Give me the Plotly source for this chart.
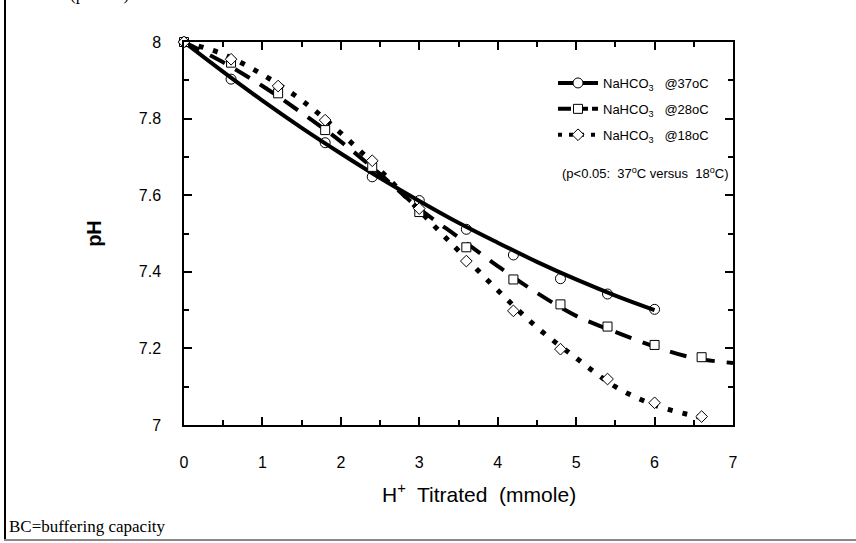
import plotly.graph_objects as go

# ---------------- data ----------------
# observed points
x37 = [0, 0.6, 1.8, 2.4, 3.0, 3.6, 4.2, 4.8, 5.4, 6.0]
y37 = [8.0, 7.903, 7.737, 7.648, 7.586, 7.511, 7.444, 7.382, 7.342, 7.302]

x28 = [0, 0.6, 1.2, 1.8, 2.4, 3.0, 3.6, 4.2, 4.8, 5.4, 6.0, 6.6]
y28 = [8.0, 7.946, 7.866, 7.770, 7.674, 7.556, 7.464, 7.380, 7.315, 7.257, 7.209, 7.177]

x18 = [0, 0.6, 1.2, 1.8, 2.4, 3.0, 3.6, 4.2, 4.8, 5.4, 6.0, 6.6]
y18 = [8.0, 7.955, 7.885, 7.796, 7.690, 7.565, 7.428, 7.298, 7.198, 7.120, 7.058, 7.022]

# fitted curves
cx37 = [0, 0.5, 1, 1.5, 2, 2.5, 3, 3.5, 4, 4.5, 5, 5.5, 6]
cy37 = [8.0, 7.922, 7.847, 7.776, 7.709, 7.645, 7.585, 7.528, 7.476, 7.426, 7.380, 7.338, 7.300]

cx28 = [0, 0.5, 1, 1.5, 2, 2.5, 3, 3.5, 4, 4.5, 5, 5.5, 6, 6.5, 7]
cy28 = [8.0, 7.947, 7.885, 7.815, 7.740, 7.655, 7.565, 7.490, 7.415, 7.345, 7.285, 7.243, 7.205, 7.175, 7.162]

cx18 = [0, 0.5, 1, 1.5, 2, 2.5, 3, 3.5, 4, 4.5, 5, 5.5, 6, 6.5, 6.6]
cy18 = [8.0, 7.968, 7.915, 7.848, 7.762, 7.665, 7.560, 7.455, 7.352, 7.255, 7.175, 7.100, 7.052, 7.024, 7.020]

legend_names = ["NaHCO<sub>3</sub>\u00a0\u00a0\u00a0@37oC",
                "NaHCO<sub>3</sub>\u00a0\u00a0\u00a0@28oC",
                "NaHCO<sub>3</sub>\u00a0\u00a0\u00a0@18oC"]
x_range = [0, 7]
y_range = [7, 8]
x_major, x_minor = 1, 0.5
y_major, y_minor = 0.2, 0.1

# ---------------- figure ----------------
W, H = 856, 543
L, R, T, B = 184, 123, 42, 118
pw, ph = W - L - R, H - T - B

def px(xp):
    return (xp - L) / pw

def py(yp):
    return (H - B - yp) / ph

SANS = "Liberation Sans, Arial, sans-serif"
SERIF = "Liberation Serif, Times New Roman, serif"

fig = go.Figure()

# curves
fig.add_trace(go.Scatter(x=cx37, y=cy37, mode="lines", line=dict(color="black", width=4, shape="spline"),
                         showlegend=False, hoverinfo="skip"))
fig.add_trace(go.Scatter(x=cx28, y=cy28, mode="lines", line=dict(color="black", width=4, shape="spline", dash="17px,12px"),
                         showlegend=False, hoverinfo="skip"))
fig.add_trace(go.Scatter(x=cx18, y=cy18, mode="lines", line=dict(color="black", width=5, shape="spline", dash="5px,10px"),
                         showlegend=False, hoverinfo="skip"))

# markers
fig.add_trace(go.Scatter(x=x37, y=y37, mode="markers", cliponaxis=False,
                         marker=dict(symbol="circle-open", size=10, color="black", line=dict(width=1)),
                         showlegend=False))
fig.add_trace(go.Scatter(x=x28, y=y28, mode="markers", cliponaxis=False,
                         marker=dict(symbol="square", size=9, color="white", line=dict(width=1, color="black")),
                         showlegend=False))
fig.add_trace(go.Scatter(x=x18, y=y18, mode="markers", cliponaxis=False,
                         marker=dict(symbol="diamond", size=9, color="white", line=dict(width=1, color="black")),
                         showlegend=False))

# legend entries
fig.add_trace(go.Scatter(x=[None], y=[None], mode="lines+markers", name=legend_names[0], legendgroup="a",
                         line=dict(color="black", width=4),
                         marker=dict(symbol="circle", size=10, color="white", line=dict(width=1, color="black"))))
fig.add_trace(go.Scatter(x=[None], y=[None], mode="lines+markers", name=legend_names[1], legendgroup="b",
                         line=dict(color="black", width=4, dash="13px,4px"),
                         marker=dict(symbol="square", size=9, color="white", line=dict(width=1, color="black"))))
fig.add_trace(go.Scatter(x=[None], y=[None], mode="lines+markers", name=legend_names[2], legendgroup="c",
                         line=dict(color="black", width=4, dash="4px,7px"),
                         marker=dict(symbol="diamond", size=9, color="white", line=dict(width=1, color="black"))))

# empty traces so the overlay tick axes are drawn
for xa, ya in [("x2", "y2"), ("x3", "y3"), ("x4", "y4")]:
    fig.add_trace(go.Scatter(x=[None], y=[None], xaxis=xa, yaxis=ya, showlegend=False, hoverinfo="skip"))

TICK = dict(ticks="inside", tickcolor="black", tickwidth=1.5, showgrid=False, zeroline=False)

def overlay_x(base_dtick, length, side, anchor, line=False):
    return dict(range=x_range, overlaying="x", anchor=anchor, side=side, tickmode="linear", tick0=0,
                dtick=base_dtick, ticklen=length, showticklabels=False,
                showline=line, linecolor="black", linewidth=1.5, **TICK)

def overlay_y(base_dtick, length, side, anchor, line=False):
    return dict(range=y_range, overlaying="y", anchor=anchor, side=side, tickmode="linear", tick0=7,
                dtick=base_dtick, ticklen=length, showticklabels=False,
                showline=line, linecolor="black", linewidth=1.5, **TICK)

fig.update_layout(
    xaxis=dict(range=x_range, tickmode="linear", tick0=0, dtick=x_major, ticklen=8, ticklabelstandoff=22,
               showline=True, linecolor="black", linewidth=1.5,
               tickfont=dict(family=SANS, size=16, color="black"), **TICK),
    yaxis=dict(range=y_range, tickmode="linear", tick0=7, dtick=y_major, ticklen=8, ticklabelstandoff=18,
               showline=True, linecolor="black", linewidth=1.5,
               tickfont=dict(family=SANS, size=16, color="black"),
               title=dict(text="<b>pH</b>", font=dict(family=SANS, size=20, color="black"), standoff=32),
               **TICK),
    xaxis2=overlay_x(x_minor, 5, "bottom", "y2"),
    yaxis2=overlay_y(y_minor, 5, "left", "x2"),
    xaxis3=overlay_x(x_major, 8, "top", "y3", line=True),
    yaxis3=overlay_y(y_major, 8, "right", "x3", line=True),
    xaxis4=overlay_x(x_minor, 5, "top", "y4"),
    yaxis4=overlay_y(y_minor, 5, "right", "x4"),
)

fig.update_layout(
    width=W, height=H,
    margin=dict(l=L, r=R, t=T, b=B, autoexpand=False),
    paper_bgcolor="white", plot_bgcolor="white",
    showlegend=True,
    legend=dict(x=px(553), y=py(68), xanchor="left", yanchor="top",
                bgcolor="rgba(0,0,0,0)", borderwidth=0,
                font=dict(family=SANS, size=13, color="black"),
                tracegroupgap=6, itemwidth=40),
    shapes=[
        dict(type="line", xref="paper", yref="paper", x0=px(5), x1=px(5), y0=py(0), y1=py(541),
             line=dict(color="black", width=2)),
        dict(type="line", xref="paper", yref="paper", x0=px(4), x1=px(856), y0=py(540), y1=py(540),
             line=dict(color="#888888", width=2)),
    ],
    annotations=[
        dict(text="H<sup>+</sup>  Titrated  (mmole)", xref="paper", yref="paper",
             x=px(479), y=py(493), xanchor="center", yanchor="middle", showarrow=False,
             font=dict(family=SANS, size=21, color="black")),
        dict(text="(p<0.05:  37<sup>o</sup>C versus  18<sup>o</sup>C)", xref="paper", yref="paper",
             x=px(731), y=py(173), xanchor="right", yanchor="middle", showarrow=False,
             font=dict(family=SANS, size=13, color="black")),
        dict(text="BC=buffering capacity", xref="paper", yref="paper",
             x=px(7), y=py(526), xanchor="left", yanchor="middle", showarrow=False,
             font=dict(family=SERIF, size=17, color="black")),
        dict(text="(p<0.05)", xref="paper", yref="paper",
             x=px(68), y=py(6), xanchor="left", yanchor="bottom", showarrow=False,
             font=dict(family=SERIF, size=17, color="black")),
    ],
)

fig.write_html("out.html", config={"displayModeBar": False},
               post_script="document.body.style.margin='0px';document.body.style.overflow='hidden';")
